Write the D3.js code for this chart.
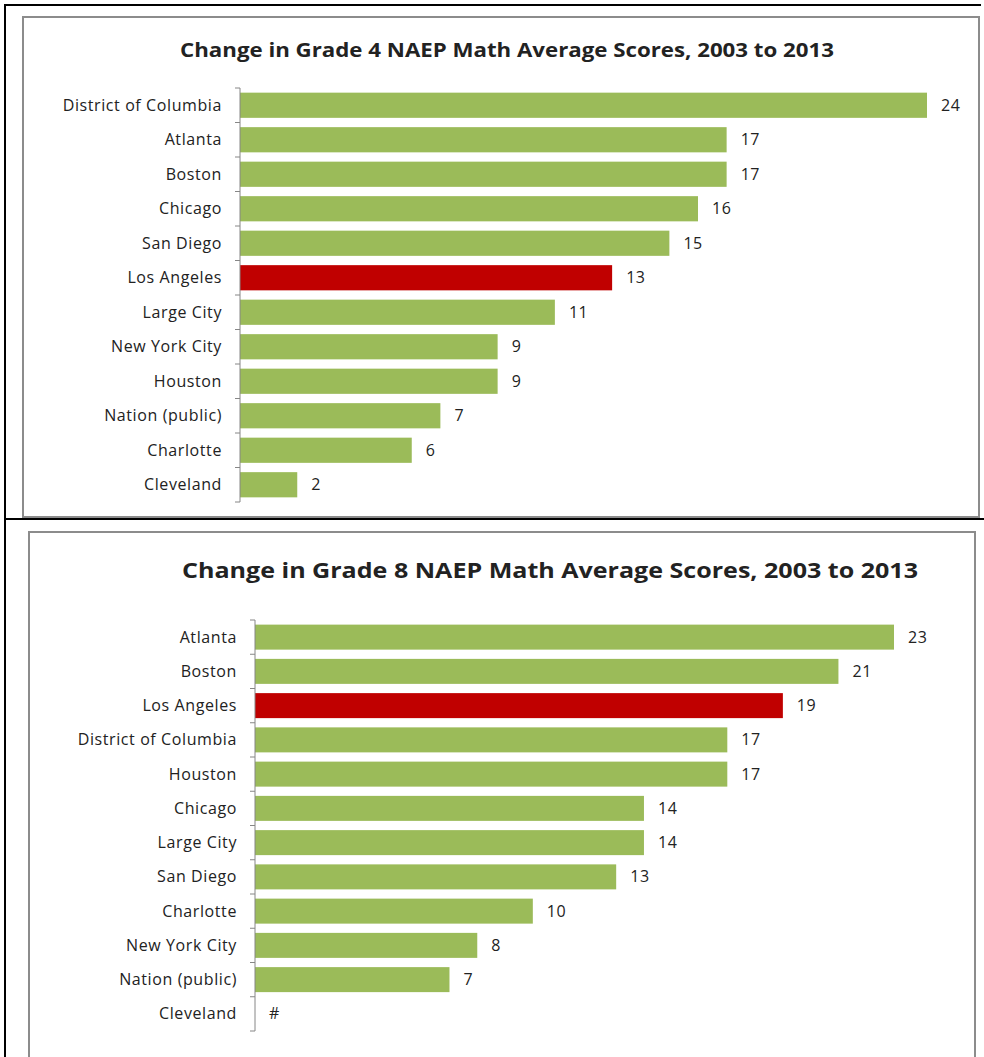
<!DOCTYPE html>
<html>
<head>
<meta charset="utf-8">
<script src="https://cdn.jsdelivr.net/npm/d3@7"></script>
<style>
  body { margin: 0; background: #fff; }
  text { font-family: "Open Sans", sans-serif; fill: #222; }
</style>
</head>
<body>
<div id="dataviz"></div>
<script>
// grade 4 chart
const g4Title = "Change in Grade 4 NAEP Math Average Scores, 2003 to 2013";
const g4Cities = ["District of Columbia", "Atlanta", "Boston", "Chicago", "San Diego", "Los Angeles",
  "Large City", "New York City", "Houston", "Nation (public)", "Charlotte", "Cleveland"];
const g4Values = [24, 17, 17, 16, 15, 13, 11, 9, 9, 7, 6, 2];

// grade 8 chart (Cleveland has no value, shown as #)
const g8Title = "Change in Grade 8 NAEP Math Average Scores, 2003 to 2013";
const g8Cities = ["Atlanta", "Boston", "Los Angeles", "District of Columbia", "Houston", "Chicago",
  "Large City", "San Diego", "Charlotte", "New York City", "Nation (public)", "Cleveland"];
const g8Values = [23, 21, 19, 17, 17, 14, 14, 13, 10, 8, 7, null];

const highlight = "Los Angeles";

let svg = d3.select("#dataviz").append("svg").attr("width", 984).attr("height", 1057)

// outer black frame lines
svg.append("line").attr("x1", 5).attr("x2", 5).attr("y1", 4).attr("y2", 1057).attr("stroke", "#000").attr("stroke-width", 2)
svg.append("line").attr("x1", 4).attr("x2", 981).attr("y1", 5).attr("y2", 5).attr("stroke", "#000").attr("stroke-width", 2)
svg.append("line").attr("x1", 4).attr("x2", 984).attr("y1", 519).attr("y2", 519).attr("stroke", "#000").attr("stroke-width", 2)

function drawPanel(cfg) {
    // grey chart border
    svg.append("rect")
        .attr("x", cfg.box[0]).attr("y", cfg.box[1])
        .attr("width", cfg.box[2]).attr("height", cfg.box[3])
        .attr("fill", "none").attr("stroke", "#8c8c8c").attr("stroke-width", 2)

    svg.append("text")
        .attr("x", cfg.titleX).attr("y", cfg.titleY)
        .attr("text-anchor", "middle")
        .style("font-weight", "bold").style("font-size", cfg.titleSize + "px")
        .attr("textLength", cfg.titleW).attr("lengthAdjust", "spacingAndGlyphs")
        .text(cfg.title)

    let y = d3.scaleBand().domain(cfg.cities).range([cfg.top, cfg.bottom]).paddingInner(0.27).paddingOuter(0.135)
    let x = d3.scaleLinear().domain([0, cfg.max]).range([cfg.left, cfg.right])

    let rows = cfg.cities.map((c, i) => ({ city: c, value: cfg.values[i] }))

    svg.selectAll(null).data(rows.filter(d => d.value != null)).enter().append("rect")
        .attr("x", x(0))
        .attr("y", d => y(d.city))
        .attr("width", d => x(d.value) - x(0))
        .attr("height", y.bandwidth())
        .attr("fill", d => d.city === highlight ? "#c00000" : "#9bbb59")

    // axis line with ticks between categories
    let step = y.step()
    let ticks = d3.range(cfg.cities.length + 1).map(i => cfg.top + i * step)
    svg.append("line").attr("x1", x(0)).attr("x2", x(0)).attr("y1", cfg.top).attr("y2", cfg.bottom)
        .attr("stroke", "#868686").attr("stroke-width", 1)
    svg.selectAll(null).data(ticks).enter().append("line")
        .attr("x1", x(0) - 5).attr("x2", x(0)).attr("y1", d => d).attr("y2", d => d)
        .attr("stroke", "#868686")

    svg.selectAll(null).data(rows).enter().append("text")
        .attr("x", x(0) - 18)
        .attr("y", d => y(d.city) + y.bandwidth() / 2)
        .attr("dy", "0.35em")
        .attr("text-anchor", "end")
        .style("font-size", cfg.fontSize + "px").style("letter-spacing", "0.6px")
        .text(d => d.city)

    svg.selectAll(null).data(rows).enter().append("text")
        .attr("x", d => x(d.value == null ? 0 : d.value) + 14)
        .attr("y", d => y(d.city) + y.bandwidth() / 2)
        .attr("dy", "0.35em")
        .style("font-size", cfg.fontSize + "px").style("letter-spacing", "0.6px")
        .text(d => d.value == null ? "#" : d.value)
}

drawPanel({
    box: [23, 17, 956, 500], title: g4Title, titleX: 507, titleY: 57, titleSize: 19.5, titleW: 654,
    cities: g4Cities, values: g4Values, max: 24,
    top: 88, bottom: 502, left: 240, right: 927, fontSize: 16
})

drawPanel({
    box: [29, 532, 946, 540], title: g8Title, titleX: 550, titleY: 578, titleSize: 22, titleW: 736,
    cities: g8Cities, values: g8Values, max: 23,
    top: 620, bottom: 1031, left: 255, right: 894, fontSize: 16
})
</script>
</body>
</html>
